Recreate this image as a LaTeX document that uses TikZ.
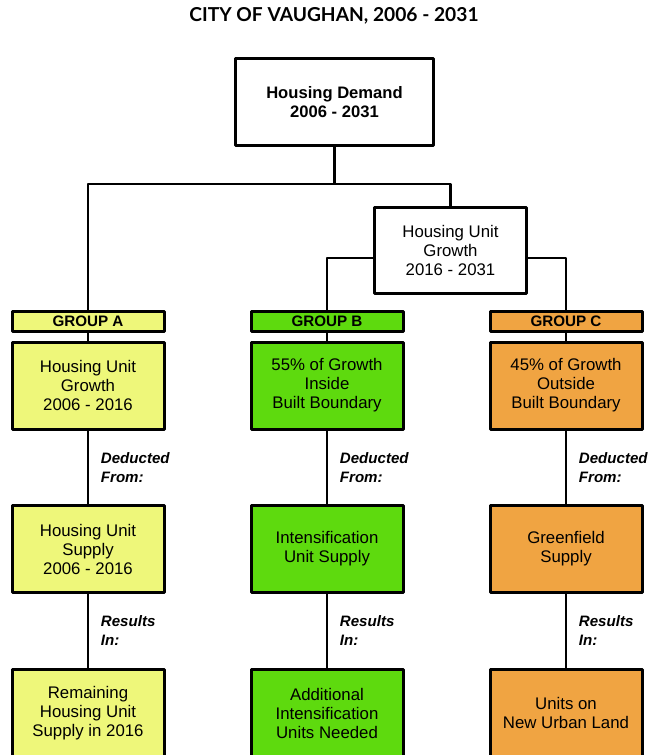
\documentclass[tikz,border=0pt]{standalone}
\usepackage{fontspec}
\setmainfont{Liberation Sans}
\newfontfamily\titlefont{Lato}
\definecolor{grpA}{RGB}{238,247,122}
\definecolor{grpB}{RGB}{94,218,14}
\definecolor{grpC}{RGB}{240,164,66}
\tikzset{
  box/.style={draw, line width=3pt, align=center, inner sep=0pt,
    font=\fontsize{16.8}{19}\selectfont},
  head/.style={box, minimum width=152pt, minimum height=20pt,
    font=\bfseries\fontsize{15.2}{16}\selectfont},
  cell/.style={box, minimum width=152pt, minimum height=87pt},
  lbl/.style={anchor=west, inner sep=0pt, xshift=11.5pt, align=left,
    font=\bfseries\itshape\fontsize{15.1}{19}\selectfont}
}
\begin{document}
\begin{tikzpicture}[x=1pt, y=-1pt, line join=round, line width=2.8pt]
  \def\xa{88} \def\xb{327} \def\xc{566} % Cột
  \path[use as bounding box] (0,0) rectangle (650,755);
  \clip (0,0) rectangle (650,755);
  \node (title) at (334,16) {\titlefont\bfseries\fontsize{19.2}{20}\selectfont CITY OF VAUGHAN, 2006 - 2031};
  \node[box, minimum width=198pt, minimum height=87pt,
    font=\bfseries\fontsize{16.6}{19}\selectfont] (demand) at (334.5,102) {Housing Demand\\2006 - 2031};
  \node[box, minimum width=152pt, minimum height=86pt] (growth) at (450.5,250.5) {Housing Unit\\Growth\\2016 - 2031};
  \coordinate (split) at (334.5,184);
  % Nhóm A
  \node[head, fill=grpA] (headA) at (\xa,321.5) {GROUP A};
  \node[cell, fill=grpA] (growA) at (\xa,385.5) {Housing Unit\\Growth\\2006 - 2016};
  \node[cell, fill=grpA] (supA) at (\xa,549) {Housing Unit\\Supply\\2006 - 2016};
  \node[cell, fill=grpA] (remA) at (\xa,713) {Remaining\\Housing Unit\\Supply in 2016};
  % Nhóm B
  \node[head, fill=grpB] (headB) at (\xb,321.5) {GROUP B};
  \node[cell, fill=grpB] (growB) at (\xb,385.5) {55\% of Growth\\Inside\\Built Boundary};
  \node[cell, fill=grpB] (supB) at (\xb,549) {Intensification\\Unit Supply};
  \node[cell, fill=grpB] (remB) at (\xb,713) {Additional\\Intensification\\Units Needed};
  % Nhóm C
  \node[head, fill=grpC] (headC) at (\xc,321.5) {GROUP C};
  \node[cell, fill=grpC] (growC) at (\xc,385.5) {45\% of Growth\\Outside\\Built Boundary};
  \node[cell, fill=grpC] (supC) at (\xc,549) {Greenfield\\Supply};
  \node[cell, fill=grpC] (remC) at (\xc,713) {Units on\\New Urban Land};
  % Đường nối
  \draw (demand) -- (split);
  \draw (headA) |- (split) -| (growth);
  \draw ([yshift=-7.5pt]growth.west) -| (headB);
  \draw ([yshift=-7.5pt]growth.east) -| (headC);
  \draw (headA) -- (growA);
  \draw (headB) -- (growB);
  \draw (headC) -- (growC);
  \draw (growA) -- node[lbl]{Deducted\\From:} (supA);
  \draw (growB) -- node[lbl]{Deducted\\From:} (supB);
  \draw (growC) -- node[lbl]{Deducted\\From:} (supC);
  \draw (supA) -- node[lbl]{Results\\In:} (remA);
  \draw (supB) -- node[lbl]{Results\\In:} (remB);
  \draw (supC) -- node[lbl]{Results\\In:} (remC);
\end{tikzpicture}
\end{document}
